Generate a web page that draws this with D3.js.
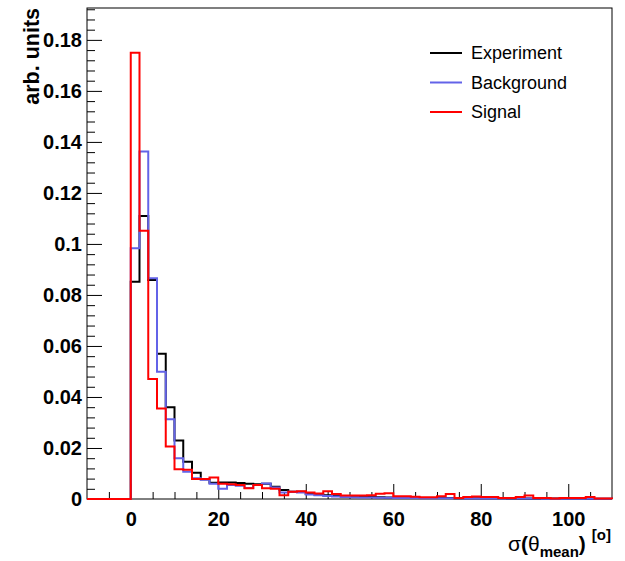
<!DOCTYPE html>
<html>
<head>
<meta charset="utf-8">
<script src="https://cdn.jsdelivr.net/npm/d3@7"></script>
<style>
  body { margin: 0; background: #fff; }
  svg { display: block; font-family: "Liberation Sans", Arial, sans-serif; }
  .tick text { font-weight: bold; font-size: 20px; fill: #000; }
</style>
</head>
<body>
<svg width="625" height="561"></svg>
<script>
// sigma(theta_mean) distributions, 2 degree bins from 0 to 110
const binLow = 0;
const binWidth = 2;

const experiment = [
  0.0852, 0.111, 0.0859, 0.0569, 0.0360, 0.0229, 0.0146, 0.0103, 0.0077, 0.0064,
  0.0065, 0.0065, 0.0063, 0.0060, 0.0058, 0.0060, 0.0048, 0.0035, 0.0028, 0.0028,
  0.0020, 0.0018, 0.0015, 0.0012, 0.0010, 0.0009, 0.0008, 0.0008, 0.0007, 0.0006,
  0.0006, 0.0005, 0.0005, 0.0004, 0.0004, 0.0004, 0.0004, 0.0003, 0.0003, 0.0003,
  0.0003, 0.0003, 0.0003, 0.0002, 0.0002, 0.0002, 0.0002, 0.0002, 0.0002, 0.0002,
  0.0002, 0.0002, 0.0001, 0.0001, 0.0001
];

const background = [
  0.0983, 0.1362, 0.0865, 0.0499, 0.0313, 0.0160, 0.0107, 0.0081, 0.0075, 0.0060,
  0.0040, 0.0055, 0.0052, 0.0043, 0.0055, 0.0061, 0.0045, 0.0025, 0.0028, 0.0025,
  0.0018, 0.0015, 0.0012, 0.0010, 0.0008, 0.0007, 0.0006, 0.0006, 0.0005, 0.0005,
  0.0004, 0.0004, 0.0004, 0.0003, 0.0003, 0.0003, 0.0003, 0.0003, 0.0002, 0.0002,
  0.0002, 0.0002, 0.0002, 0.0002, 0.0002, 0.0002, 0.0002, 0.0001, 0.0001, 0.0001,
  0.0001, 0.0001, 0.0001, 0.0001, 0.0001
];

const signal = [
  0.1750, 0.1052, 0.0470, 0.0355, 0.0206, 0.0117, 0.0115, 0.0078, 0.0078, 0.0084,
  0.0060, 0.0058, 0.0055, 0.0042, 0.0055, 0.0042, 0.0040, 0.0015, 0.0028, 0.0030,
  0.0025, 0.0022, 0.0030, 0.0020, 0.0014, 0.0014, 0.0014, 0.0015, 0.0021, 0.0023,
  0.0011, 0.0011, 0.0009, 0.0007, 0.0007, 0.0011, 0.0020, 0.0004, 0.0008, 0.0010,
  0.0008, 0.0008, 0.0004, 0.0004, 0.0008, 0.0014, 0.0004, 0.0004, 0.0002, 0.0004,
  0.0004, 0.0004, 0.0008, 0.0002, 0.0002
];

const seriesNames = ['Experiment', 'Background', 'Signal'];
const seriesColors = ['#000000', '#6363e8', '#ff0000'];

const yMajorTicks = [0, 0.02, 0.04, 0.06, 0.08, 0.1, 0.12, 0.14, 0.16, 0.18];
const xMajorTicks = [0, 20, 40, 60, 80, 100];

const svg = d3.select('svg');
const frameL = 87, frameR = 612, frameT = 8, frameB = 499;

const x = d3.scaleLinear().domain([-10, 110]).range([frameL, frameR]);
const y = d3.scaleLinear().domain([0, 0.1925]).range([frameB, frameT]);

// frame
svg.append('rect')
  .attr('x', frameL).attr('y', frameT)
  .attr('width', frameR - frameL).attr('height', frameB - frameT)
  .attr('fill', 'none').attr('stroke', '#000').attr('stroke-width', 1);

// y axis, ticks pointing inside
const yMinor = d3.range(0, 0.193, 0.004).filter(v => yMajorTicks.every(m => Math.abs(m - v) > 1e-6));
svg.append('g')
  .attr('transform', `translate(${frameL},0)`)
  .call(d3.axisLeft(y).tickValues(yMinor).tickSize(-8).tickSizeOuter(0).tickFormat(''))
  .call(g => g.select('.domain').remove());
svg.append('g')
  .attr('transform', `translate(${frameL},0)`)
  .call(d3.axisLeft(y).tickValues(yMajorTicks).tickSize(-15).tickSizeOuter(0).tickPadding(5)
    .tickFormat(d => String(+d.toFixed(3))))
  .call(g => g.select('.domain').remove());

// x axis
const xMinor = d3.range(-5, 110, 5).filter(v => v % 20 !== 0);
svg.append('g')
  .attr('transform', `translate(0,${frameB})`)
  .call(d3.axisBottom(x).tickValues(xMinor).tickSize(-7).tickSizeOuter(0).tickFormat(''))
  .call(g => g.select('.domain').remove());
svg.append('g')
  .attr('transform', `translate(0,${frameB})`)
  .call(d3.axisBottom(x).tickValues(xMajorTicks).tickSize(-15).tickSizeOuter(0).tickPadding(13))
  .call(g => g.select('.domain').remove());

// histograms as step outlines
function histPath(values) {
  const pts = [[x(-10), y(0)], [x(binLow), y(0)]];
  values.forEach((v, i) => {
    const x0 = binLow + i * binWidth;
    pts.push([x(x0), y(v)]);
    pts.push([x(x0 + binWidth), y(v)]);
  });
  pts.push([x(binLow + values.length * binWidth), y(0)]);
  return d3.line()(pts);
}

[experiment, background, signal].forEach((vals, i) => {
  svg.append('path')
    .attr('d', histPath(vals))
    .attr('fill', 'none')
    .attr('stroke', seriesColors[i])
    .attr('stroke-width', 2)
    .attr('stroke-linejoin', 'miter');
});

// legend
const legend = svg.append('g');
seriesNames.forEach((name, i) => {
  const ly = 53 + i * 29.5;
  legend.append('line')
    .attr('x1', 430).attr('x2', 462).attr('y1', ly).attr('y2', ly)
    .attr('stroke', seriesColors[i]).attr('stroke-width', 2);
  legend.append('text')
    .attr('x', 471).attr('y', ly).attr('dy', '0.35em')
    .attr('font-size', 18).text(name);
});

// axis titles
svg.append('text')
  .attr('transform', 'translate(38.5,8) rotate(-90)')
  .attr('text-anchor', 'end')
  .attr('font-weight', 'bold').attr('font-size', 21.5)
  .text('arb. units');

const xt = svg.append('text')
  .attr('x', 611).attr('y', 551)
  .attr('text-anchor', 'end')
  .attr('font-size', 21);
xt.append('tspan').text('σ');
xt.append('tspan').attr('font-weight', 'bold').text('(');
xt.append('tspan').text('θ');
xt.append('tspan').attr('font-weight', 'bold').attr('font-size', 15).attr('dy', 6).text('mean');
xt.append('tspan').attr('font-weight', 'bold').attr('dy', -6).text(')');
xt.append('tspan').attr('font-weight', 'bold').attr('font-size', 15).attr('dy', -11).attr('dx', 6).text('[o]');
</script>
</body>
</html>
